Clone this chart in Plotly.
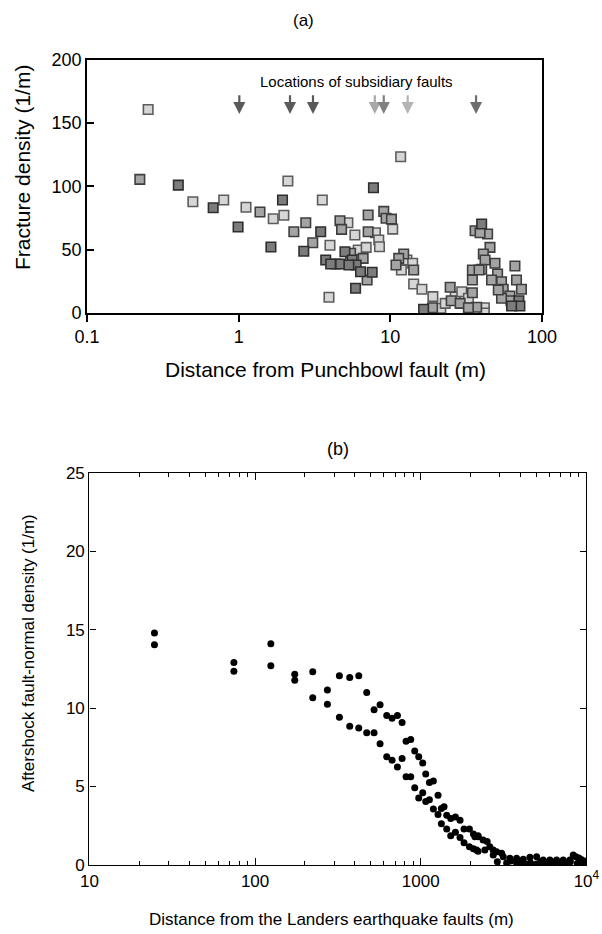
import numpy as np
import plotly.graph_objects as go

# ---------------- Panel (a) data: fracture density vs distance ----------------
light_x = [0.253, 0.499, 0.797, 1.118, 1.69, 2.111, 1.987, 3.561, 4.0, 3.94, 5.25, 5.84, 6.14, 6.93,
           7.98, 8.39, 8.48, 10.37, 11.70, 12.87, 11.83, 14.03, 14.25, 16.15, 19.08, 21.52, 23.0,
           26.76, 29.57, 32.72, 41.68, 41.68]
light_y = [160.6, 87.8, 89.1, 83.4, 74.4, 104.1, 77.1, 89.1, 53.4, 12.4, 71.2, 61.5, 49.7, 51.8,
           63.3, 57.6, 52.3, 66.2, 123.3, 41.8, 33.9, 39.2, 22.9, 18.7, 12.9, 3.7, 7.6,
           12.9, 16.8, 11.6, 4.2, 0.0]

medium_x = [0.223, 1.382, 2.311, 2.77, 3.08, 4.36, 4.654, 4.77, 5.47, 6.62, 7.03, 7.14, 7.14, 9.05,
            9.37, 10.17, 12.25, 11.36, 10.9, 14.25, 18.99, 24.81, 25.19, 28.86, 34.75, 34.75, 37.09,
            32.72, 36.2, 43.8, 39.05, 45.4, 41.04, 42.1, 40.0, 48.98, 34.75, 38.46, 50.96, 54.1,
            55.5, 61.45, 66.3, 67.9, 73.2, 62.4, 54.1, 51.5, 46.5]
medium_y = [105.4, 79.7, 64.1, 71.2, 55.4, 38.6, 72.8, 66.0, 47.1, 43.1, 26.0, 77.3, 64.1, 80.2,
            74.7, 74.1, 46.5, 43.1, 37.9, 33.9, 4.2, 20.3, 9.7, 7.6, 16.0, 26.0, 4.5,
            4.2, 64.9, 62.3, 63.3, 51.8, 46.5, 41.8, 34.5, 39.2, 33.9, 33.9, 30.8, 24.7,
            18.7, 13.4, 37.1, 26.0, 18.7, 9.7, 11.6, 18.1, 26.0]

dark_x = [0.400, 0.679, 0.991, 1.632, 1.945, 2.688, 3.475, 3.75, 4.044, 4.70, 5.02, 5.60, 5.95,
          5.33, 6.36, 7.59, 5.90, 7.74, 16.57, 40.0, 70.4, 71.5, 63.0]
dark_y = [100.9, 83.0, 67.8, 52.1, 89.1, 48.7, 64.1, 41.8, 38.6, 38.6, 48.3, 41.8, 37.9,
          37.9, 32.6, 32.1, 19.5, 98.8, 2.9, 70.2, 9.7, 5.5, 5.5]

fault_x = [1.01, 2.18, 3.09, 7.90, 9.05, 13.01, 36.75]
fault_tone = ["#5a5a5a", "#5a5a5a", "#5a5a5a", "#a8a8a8", "#808080", "#b4b4b4", "#6e6e6e"]

a_xticks = [0.1, 1, 10, 100]
a_xticklabels = ["0.1", "1", "10", "100"]
a_yticks = [0, 50, 100, 150, 200]

# ---------------- Panel (b) data: aftershock density vs distance ----------------
b_x = [24.7, 24.7, 74.5, 74.5, 124.5, 124.5,
       173.6, 173.6, 222.9, 222.9, 273.3, 273.3, 322.9, 322.9, 372.7, 372.7, 422.6, 422.6,
       472, 472, 522.8, 522.8, 568.3, 568.3, 623.5, 623.5, 671.4, 671.4, 723.2, 723.2,
       771.7, 771.7, 815.6, 815.6, 870.1, 870.1, 919.9, 919.9, 972.6, 972.6, 1028, 1028,
       1072, 1072, 1128, 1128, 1192, 1192, 1272, 1272, 1332, 1332, 1383, 1435, 1435,
       1517, 1517, 1619, 1619, 1727, 1727, 1825, 1825, 1967, 1967, 2080, 2080, 2218, 2218,
       2124, 2223, 2173, 2381, 2517, 2438, 2612, 2739, 2739, 2871, 3079, 3148, 3454, 3791,
       4157, 4562, 5008, 5486, 6021, 6608, 7248, 7950, 8326, 8643, 9575, 10000,
       2900, 3300, 3800, 4300, 5000, 5600, 6200, 7000, 7800, 8800, 9300, 9800,
       3500, 4000, 4600, 5300, 5900, 6500, 7400, 8000, 9000]
b_y = [14.78, 14.03, 12.9, 12.35, 14.1, 12.7,
       12.15, 11.78, 12.32, 10.66, 11.16, 10.25, 12.06, 9.41, 11.95, 8.84, 12.06, 8.73,
       10.99, 8.43, 9.9, 8.43, 10.22, 7.73, 9.52, 6.9, 9.35, 6.68, 9.52, 6.24,
       9.08, 6.79, 7.88, 5.63, 7.99, 5.63, 7.27, 4.93, 6.9, 4.27, 6.5, 4.6,
       5.8, 4.05, 5.25, 4.16, 5.36, 3.57, 4.44, 3.22, 3.6, 2.63, 3.72, 3.17, 2.3,
       2.96, 1.86, 3.06, 2.08, 2.85, 1.75, 2.3, 1.42, 2.3, 1.16, 1.97, 1.03, 1.86, 0.88,
       1.8, 1.8, 0.96, 1.6, 1.49, 0.96, 1.17, 0.96, 0.64, 0.85, 0.75, 0.53, 0.43, 0.43,
       0.36, 0.49, 0.53, 0.32, 0.32, 0.32, 0.32, 0.32, 0.64, 0.53, 0.15, 0.06,
       0.2, 0.12, 0.08, 0.06, 0.06, 0.1, 0.08, 0.1, 0.06, 0.1, 0.35, 0.25,
       0.25, 0.2, 0.15, 0.2, 0.15, 0.2, 0.15, 0.2, 0.45]

b_xticks = [10, 100, 1000, 10000]
b_xticklabels = ["10", "100", "1000", "10<sup>4</sup>"]
b_minor = [m * 10 ** e for e in (1, 2, 3) for m in range(2, 10)]
b_yticks = [0, 5, 10, 15, 20, 25]

FONT = "Liberation Sans, Arial, sans-serif"
W, H = 602, 934

def px_x(p):
    return p / W

def px_y(p):
    return 1 - p / H

fig = go.Figure()

for xs, ys, fill, edge in [
    (light_x, light_y, "#d6d6d6", "#5c5c5c"),
    (medium_x, medium_y, "#a4a4a4", "#3e3e3e"),
    (dark_x, dark_y, "#7c7c7c", "#2e2e2e"),
]:
    fig.add_trace(go.Scatter(
        x=xs, y=ys, mode="markers", xaxis="x", yaxis="y",
        marker=dict(symbol="square", size=9.5, color=fill, line=dict(color=edge, width=1.6)),
        showlegend=False, hoverinfo="x+y"))

fig.add_trace(go.Scatter(
    x=b_x, y=b_y, mode="markers", xaxis="x2", yaxis="y2",
    marker=dict(symbol="circle", size=7, color="black"),
    showlegend=False, hoverinfo="x+y"))

ann = []
for xv, col in zip(fault_x, fault_tone):
    ann.append(dict(x=np.log10(xv), y=157, ax=np.log10(xv), ay=173, xref="x", yref="y",
                    axref="x", ayref="y", text="", showarrow=True, arrowhead=2,
                    arrowsize=1.1, arrowwidth=2.2, arrowcolor=col))
ann.append(dict(x=np.log10(5.95), y=182.5, xref="x", yref="y", text="Locations of subsidiary faults",
                showarrow=False, xanchor="center", yanchor="middle",
                font=dict(family=FONT, size=15, color="black")))

def label(xp, yp, text, size, angle=0):
    return dict(x=px_x(xp), y=px_y(yp), xref="paper", yref="paper", text=text, showarrow=False,
                xanchor="center", yanchor="middle", textangle=angle,
                font=dict(family=FONT, size=size, color="black"))

ann.append(label(303, 20, "(a)", 17))
ann.append(label(338, 449, "(b)", 18))
ann.append(label(22, 168, "Fracture density (1/m)", 21, -90))
ann.append(label(325, 369, "Distance from Punchbowl fault (m)", 21))
ann.append(label(28, 653, "Aftershock fault-normal density (1/m)", 17, -90))
ann.append(label(332, 919, "Distance from the Landers earthquake faults (m)", 17))

fig.update_layout(
    width=W, height=H, margin=dict(l=0, r=0, t=0, b=0, autoexpand=False),
    paper_bgcolor="white", plot_bgcolor="white",
    font=dict(family=FONT, color="black"),
    annotations=ann,
    xaxis=dict(type="log", range=[-1, 2], domain=[px_x(87), px_x(542)], anchor="y",
               tickmode="array", tickvals=a_xticks, ticktext=a_xticklabels,
               ticks="outside", ticklen=7, tickwidth=1.5, tickcolor="black",
               showline=True, linecolor="black", linewidth=1.6, mirror=True,
               showgrid=False, zeroline=False, tickfont=dict(size=18), automargin=False),
    yaxis=dict(range=[0, 200], domain=[px_y(313), px_y(59.5)], anchor="x",
               tickmode="array", tickvals=a_yticks,
               ticks="inside", ticklen=7, tickwidth=1.5, tickcolor="black",
               showline=True, linecolor="black", linewidth=1.6, mirror=True,
               showgrid=False, zeroline=False, tickfont=dict(size=18), automargin=False),
    xaxis2=dict(type="log", range=[1, 4], domain=[px_x(89.4), px_x(586.4)], anchor="y2",
                tickmode="array", tickvals=b_xticks, ticktext=b_xticklabels,
                ticks="inside", ticklen=7, tickwidth=1.2, tickcolor="black",
                minor=dict(tickmode="array", tickvals=b_minor, ticks="inside", ticklen=4,
                           tickwidth=1, tickcolor="black", showgrid=False),
                showline=True, linecolor="black", linewidth=1.4, mirror="ticks",
                showgrid=False, zeroline=False, tickfont=dict(size=17), automargin=False),
    yaxis2=dict(range=[0, 25], domain=[px_y(865), px_y(472.7)], anchor="x2",
                tickmode="array", tickvals=b_yticks,
                ticks="inside", ticklen=6, tickwidth=1.2, tickcolor="black",
                showline=True, linecolor="black", linewidth=1.4, mirror="ticks",
                showgrid=False, zeroline=False, tickfont=dict(size=17), automargin=False),
)

fig.write_html(
    "out.html",
    config={"displayModeBar": False},
    post_script="document.body.style.margin='0';document.body.style.padding='0';"
                "document.body.style.overflow='hidden';",
)
